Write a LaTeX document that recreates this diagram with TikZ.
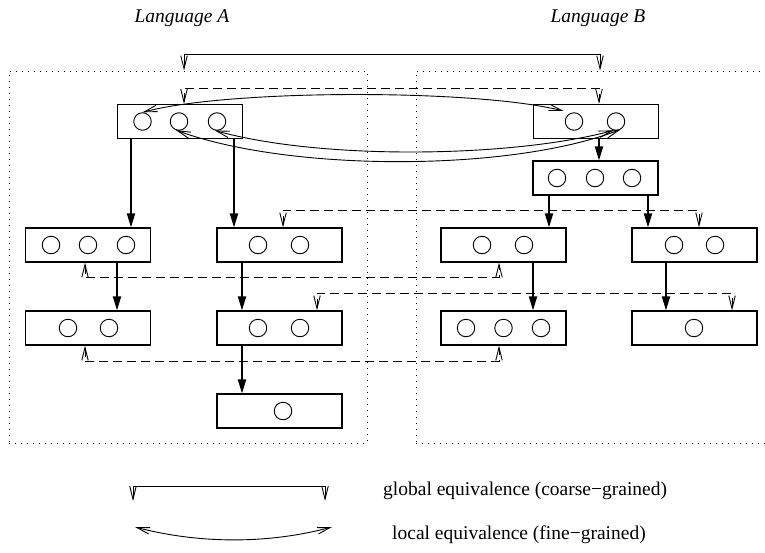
\documentclass[tikz,border=0pt]{standalone}
\usepackage{fontspec}
\setmainfont{Liberation Serif}
\usetikzlibrary{arrows.meta}

\tikzset{
  openv/.tip={Straight Barb[length=13pt,width=6.5pt,line width=0.9pt]},
  box/.style={draw, line width=1.1pt, minimum width=125pt, minimum height=34pt, inner sep=0pt},
  dot/.style={draw, circle, line width=0.9pt, minimum size=17.5pt, inner sep=0pt},
  region/.style={draw, line width=1pt, dash pattern=on 1pt off 5pt,
    minimum width=358pt, minimum height=372pt, inner sep=0pt},
  flow/.style={line width=1.8pt, -{Triangle[length=14pt,width=8pt]}},
  coarse/.style={line width=1pt, openv-openv},
  fine/.style={line width=0.9pt, openv-openv},
  corr/.style={line width=1pt, dash pattern=on 9pt off 5pt, openv-openv},
  label/.style={font=\fontsize{19.5}{23}\selectfont, inner sep=0pt},
}

\begin{document}
\begin{tikzpicture}[x=1pt, y=-1pt]
\useasboundingbox (0,0) rectangle (765,552);
\clip (0,0) rectangle (765,552);

% the two language regions
\node[region] (lang-a) at (188,257) {};
\node[region] (lang-b) at (595,257) {};
\node[label, font=\fontsize{19.5}{23}\selectfont\itshape] (title-a) at (182,18) {Language A};
\node[label, font=\fontsize{19.5}{23}\selectfont\itshape] (title-b) at (598,18) {Language B};

% structure boxes
\node[box] (a0) at (180,121.5) {};
\node[box] (b0) at (596,121.5) {};
\node[box] (b1) at (595.5,178) {};
\node[box] (a1) at (88,245) {};
\node[box] (a2) at (279.5,245) {};
\node[box] (b2) at (503.5,245) {};
\node[box] (b3) at (694.5,245) {};
\node[box] (a3) at (88,328) {};
\node[box] (a4) at (279.5,328) {};
\node[box] (b4) at (503.5,328) {};
\node[box] (b5) at (694.5,328) {};
\node[box] (a5) at (279.5,411) {};

% elements inside the boxes
\node[dot] (a0-1) at (142.5,121.5) {};
\node[dot] (a0-2) at (179,121.5) {};
\node[dot] (a0-3) at (217,121.5) {};
\node[dot] (b0-1) at (574,121.5) {};
\node[dot] (b0-2) at (616,121.5) {};
\node[dot] (b1-1) at (557,178) {};
\node[dot] (b1-2) at (595,178) {};
\node[dot] (b1-3) at (632,178) {};
\node[dot] (a1-1) at (51,245) {};
\node[dot] (a1-2) at (88,245) {};
\node[dot] (a1-3) at (126,245) {};
\node[dot] (a2-1) at (258,245) {};
\node[dot] (a2-2) at (300,245) {};
\node[dot] (b2-1) at (482,245) {};
\node[dot] (b2-2) at (524,245) {};
\node[dot] (b3-1) at (674,245) {};
\node[dot] (b3-2) at (715,245) {};
\node[dot] (a3-1) at (68,328) {};
\node[dot] (a3-2) at (109,328) {};
\node[dot] (a4-1) at (258,328) {};
\node[dot] (a4-2) at (300,328) {};
\node[dot] (b4-1) at (466,328) {};
\node[dot] (b4-2) at (503.5,328) {};
\node[dot] (b4-3) at (541,328) {};
\node[dot] (b5-1) at (694,328) {};
\node[dot] (a5-1) at (283,411) {};

% global correspondence between the languages
\draw[coarse] ([xshift=-4pt]lang-a.north) -- ++(0,-16.5) -| ([xshift=5pt]lang-b.north);

% correspondences between structures (dashed)
\draw[corr] ([xshift=4pt]a0.north) -- ++(0,-15.5) -| ([xshift=3pt]b0.north);
\draw[corr] ([xshift=3.5pt]a2.north) -- ++(0,-17) -| ([xshift=4.5pt]b3.north);
\draw[corr] ([xshift=-3pt]a1.south) -- ++(0,15) -| ([xshift=-4.5pt]b2.south);
\draw[corr] ([xshift=37.5pt]a4.north) -- ++(0,-17) -| ([xshift=37.5pt]b5.north);
\draw[corr] ([xshift=-3pt]a3.south) -- ++(0,16) -| ([xshift=-4.5pt]b4.south);

% hierarchy arrows
\draw[flow] ([xshift=-49pt]a0.south) -- ([xshift=43pt]a1.north);
\draw[flow] ([xshift=54pt]a0.south) -- ([xshift=-45.5pt]a2.north);
\draw[flow] ([xshift=3pt]b0.south) -- ([xshift=3.5pt]b1.north);
\draw[flow] ([xshift=-46.5pt]b1.south) -- ([xshift=45.5pt]b2.north);
\draw[flow] ([xshift=52.5pt]b1.south) -- ([xshift=-46.5pt]b3.north);
\draw[flow] ([xshift=29pt]a1.south) -- ([xshift=29pt]a3.north);
\draw[flow] ([xshift=-37.5pt]a2.south) -- ([xshift=-37.5pt]a4.north);
\draw[flow] ([xshift=29.5pt]b2.south) -- ([xshift=29.5pt]b4.north);
\draw[flow] ([xshift=-28.5pt]b3.south) -- ([xshift=-28.5pt]b5.north);
\draw[flow] ([xshift=-37.5pt]a4.south) -- ([xshift=-37.5pt]a5.north);

% element-level correspondences
\draw[fine] ([shift={(-4,-4)}]b0-1.north west) .. controls (476,89) and (230,89) .. (a0-1.north);
\draw[fine] (a0-2.250) .. controls (290,172) and (510,172) .. (b0-2.300);
\draw[fine] (a0-3.255) .. controls (320,160) and (510,158) .. (b0-2.255);

% legend
\coordinate (leg-g1) at (133,501);
\coordinate (leg-g2) at (325,501);
\draw[coarse] (leg-g1) -- ++(0,-15) -| (leg-g2);
\node[label, anchor=west] (leg-gt) at (383,491) {global equivalence (coarse−grained)};

\coordinate (leg-f1) at (135,527);
\coordinate (leg-f2) at (332,527);
\draw[fine] (leg-f1) .. controls (200,544) and (268,544) .. (leg-f2);
\node[label, anchor=west] (leg-ft) at (392,535) {local equivalence (fine−grained)};
\end{tikzpicture}
\end{document}
